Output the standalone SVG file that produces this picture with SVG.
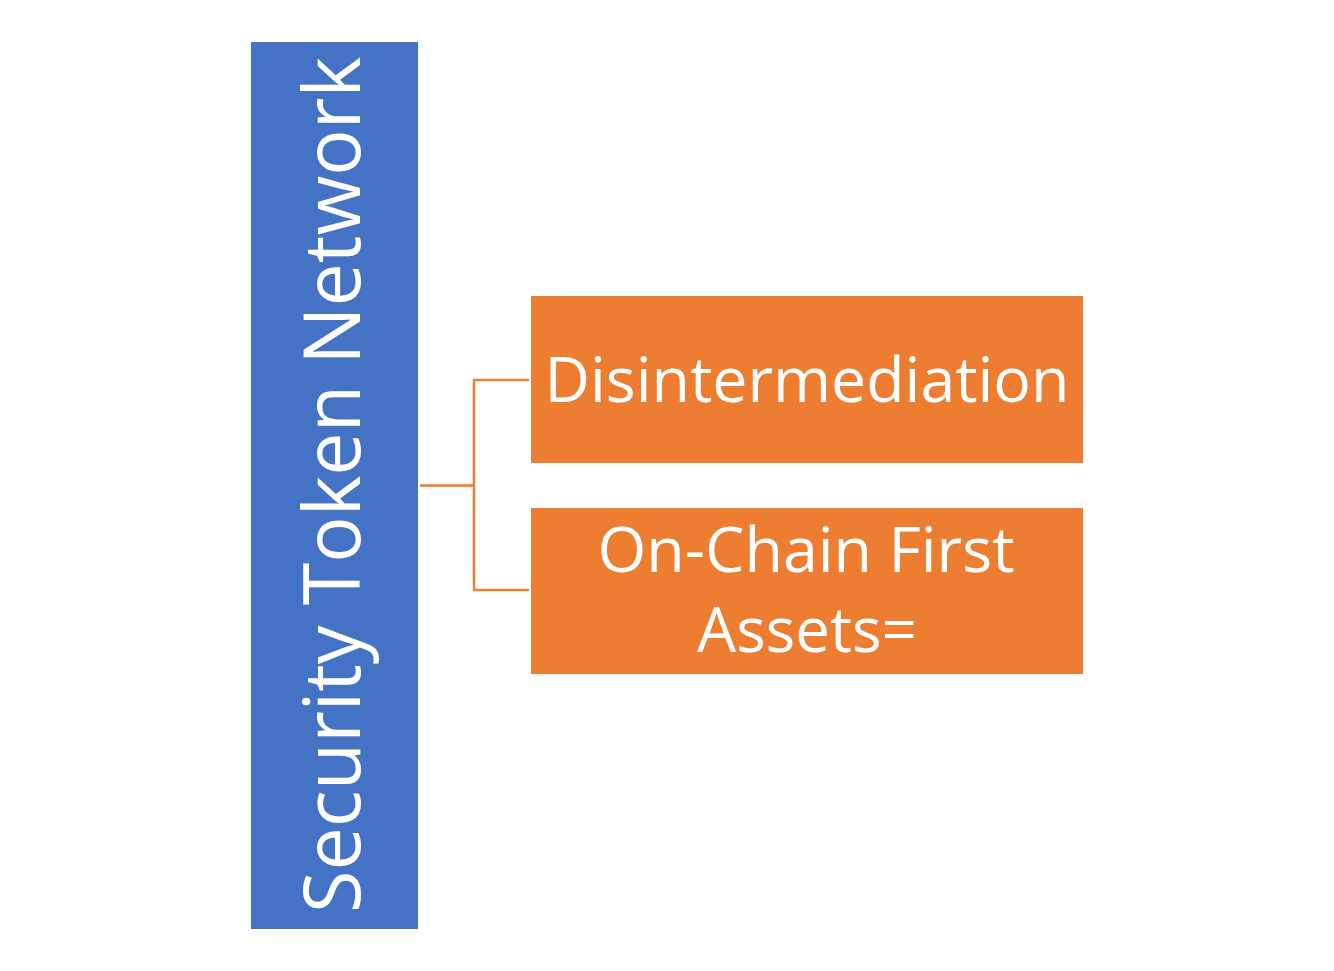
<svg xmlns="http://www.w3.org/2000/svg" width="1334" height="971" viewBox="0 0 1334 971">
<style>
.lbl{font-family:"Open Sans","Noto Sans","Liberation Sans",sans-serif;fill:#ffffff;text-anchor:middle}
.conn{fill:none;stroke:#ED7D31;stroke-width:2.5}
</style>
<rect x="0" y="0" width="1334" height="971" fill="#ffffff"/>
<g id="connectors">
<path class="conn" d="M420,485.5 H474 M529,380 H474 V590 H529"/>
</g>
<g id="root">
<rect x="251" y="42" width="167" height="887" fill="#4472C4"/>
<text class="lbl" transform="translate(360,485) rotate(-90)" x="0" y="0" font-size="78" textLength="856" lengthAdjust="spacingAndGlyphs">Security Token Network</text>
</g>
<g id="n1">
<rect x="531" y="296" width="552" height="167" fill="#ED7D31"/>
<text class="lbl" x="807" y="402" font-size="62" textLength="525" lengthAdjust="spacingAndGlyphs">Disintermediation</text>
</g>
<g id="n2">
<rect x="531" y="508" width="552" height="166" fill="#ED7D31"/>
<text class="lbl" x="806" y="572" font-size="62" textLength="417" lengthAdjust="spacingAndGlyphs">On-Chain First</text>
<text class="lbl" x="807" y="652" font-size="62" textLength="220" lengthAdjust="spacingAndGlyphs">Assets=</text>
</g>
</svg>
